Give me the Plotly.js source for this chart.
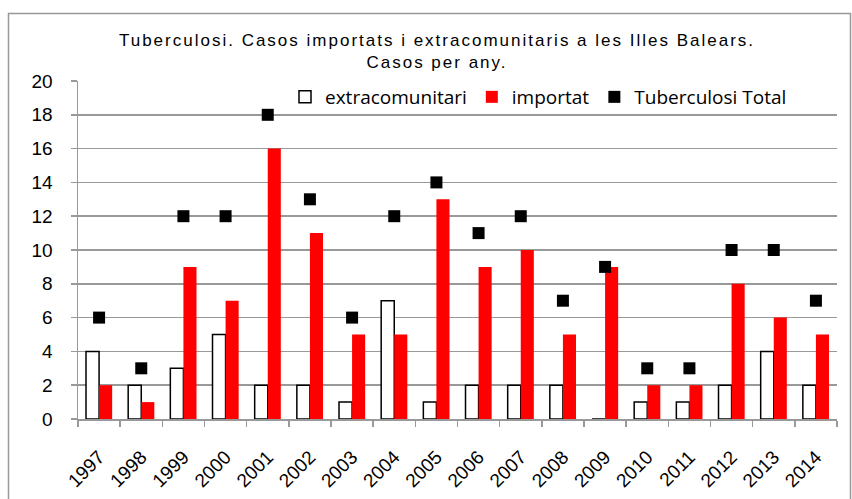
<!DOCTYPE html>
<html><head><meta charset="utf-8">
<script src="https://cdn.plot.ly/plotly-3.0.1.min.js"></script>
<style>html,body{margin:0;padding:0;background:#fff}#chart{width:852px;height:499px}
#chart .gtitle{letter-spacing:2px}</style>
</head><body><div id="chart"></div>
<script>
const years = ['1997','1998','1999','2000','2001','2002','2003','2004','2005','2006','2007','2008','2009','2010','2011','2012','2013','2014'];
const extracomunitari = [4,2,3,5,2,2,1,7,1,2,2,2,0,1,1,2,4,2];
const importat = [2,1,9,7,16,11,5,5,13,9,10,5,9,2,2,8,6,5];
const total = [6,3,12,12,18,13,6,12,14,11,12,7,9,3,3,10,10,7];

const L=78, R=837, T=81, B=419, W=852, H=499;
const px = x => (x-L)/(R-L);
const py = y => (B-y)/(B-T);
const tickFont = {family:'Liberation Sans Narrow, Liberation Sans, Arial, sans-serif', size:19, color:'#000'};

const traces = [
  {type:'bar', name:'extracomunitari', x:years, y:extracomunitari,
   marker:{color:'#ffffff', line:{color:'#000000', width:1.5}}},
  {type:'bar', name:'importat', x:years, y:importat,
   marker:{color:'#ff0000', line:{width:0}}},
  {type:'scatter', mode:'markers', name:'Tuberculosi Total', x:years, y:total,
   marker:{symbol:'square', color:'#000000', size:12}}
];

const layout = {
  width:W, height:H,
  margin:{l:L, r:W-R, t:T, b:H-B},
  paper_bgcolor:'#ffffff', plot_bgcolor:'#ffffff',
  font:{family:'Liberation Sans, Arial, sans-serif', color:'#000000', size:15},
  title:{text:'Tuberculosi. Casos importats i extracomunitaris a les Illes Balears.<br>Casos per any.',
    x:437/W, xanchor:'center', xref:'container', y:1-46/H, yref:'container', yanchor:'middle',
    font:{size:17, color:'#000'}},
  barmode:'group', bargap:0.38, bargroupgap:0,
  showlegend:true,
  legend:{orientation:'h', x:px(285), xanchor:'left', y:py(97), yanchor:'middle',
    bgcolor:'rgba(0,0,0,0)', font:{family:'Open Sans, sans-serif', size:19, color:'#000'},
    itemwidth:30, traceorder:'normal'},
  xaxis:{type:'category', range:[-0.5,17.5], tickangle:-45, showline:true, linecolor:'#999999', linewidth:1.5,
    ticks:'outside', tickson:'boundaries', ticklen:6, tickcolor:'#999999', tickwidth:1.5,
    showgrid:false, tickfont:tickFont, ticklabelstandoff:18, fixedrange:true},
  yaxis:{range:[0,20], dtick:2, showline:true, linecolor:'#999999', linewidth:1.5,
    ticks:'outside', ticklen:6, tickcolor:'#999999', tickwidth:1.5, ticklabelstandoff:14,
    gridcolor:'#999999', gridwidth:1.5, zeroline:false, tickfont:tickFont, fixedrange:true},
  shapes:[{type:'rect', xref:'paper', yref:'paper',
    x0:px(8.5), x1:px(850.5), y0:py(13.5), y1:py(510),
    line:{color:'#999999', width:1.5}, fillcolor:'rgba(0,0,0,0)', layer:'below'}]
};
Plotly.newPlot('chart', traces, layout, {displayModeBar:false, staticPlot:true});
</script></body></html>
